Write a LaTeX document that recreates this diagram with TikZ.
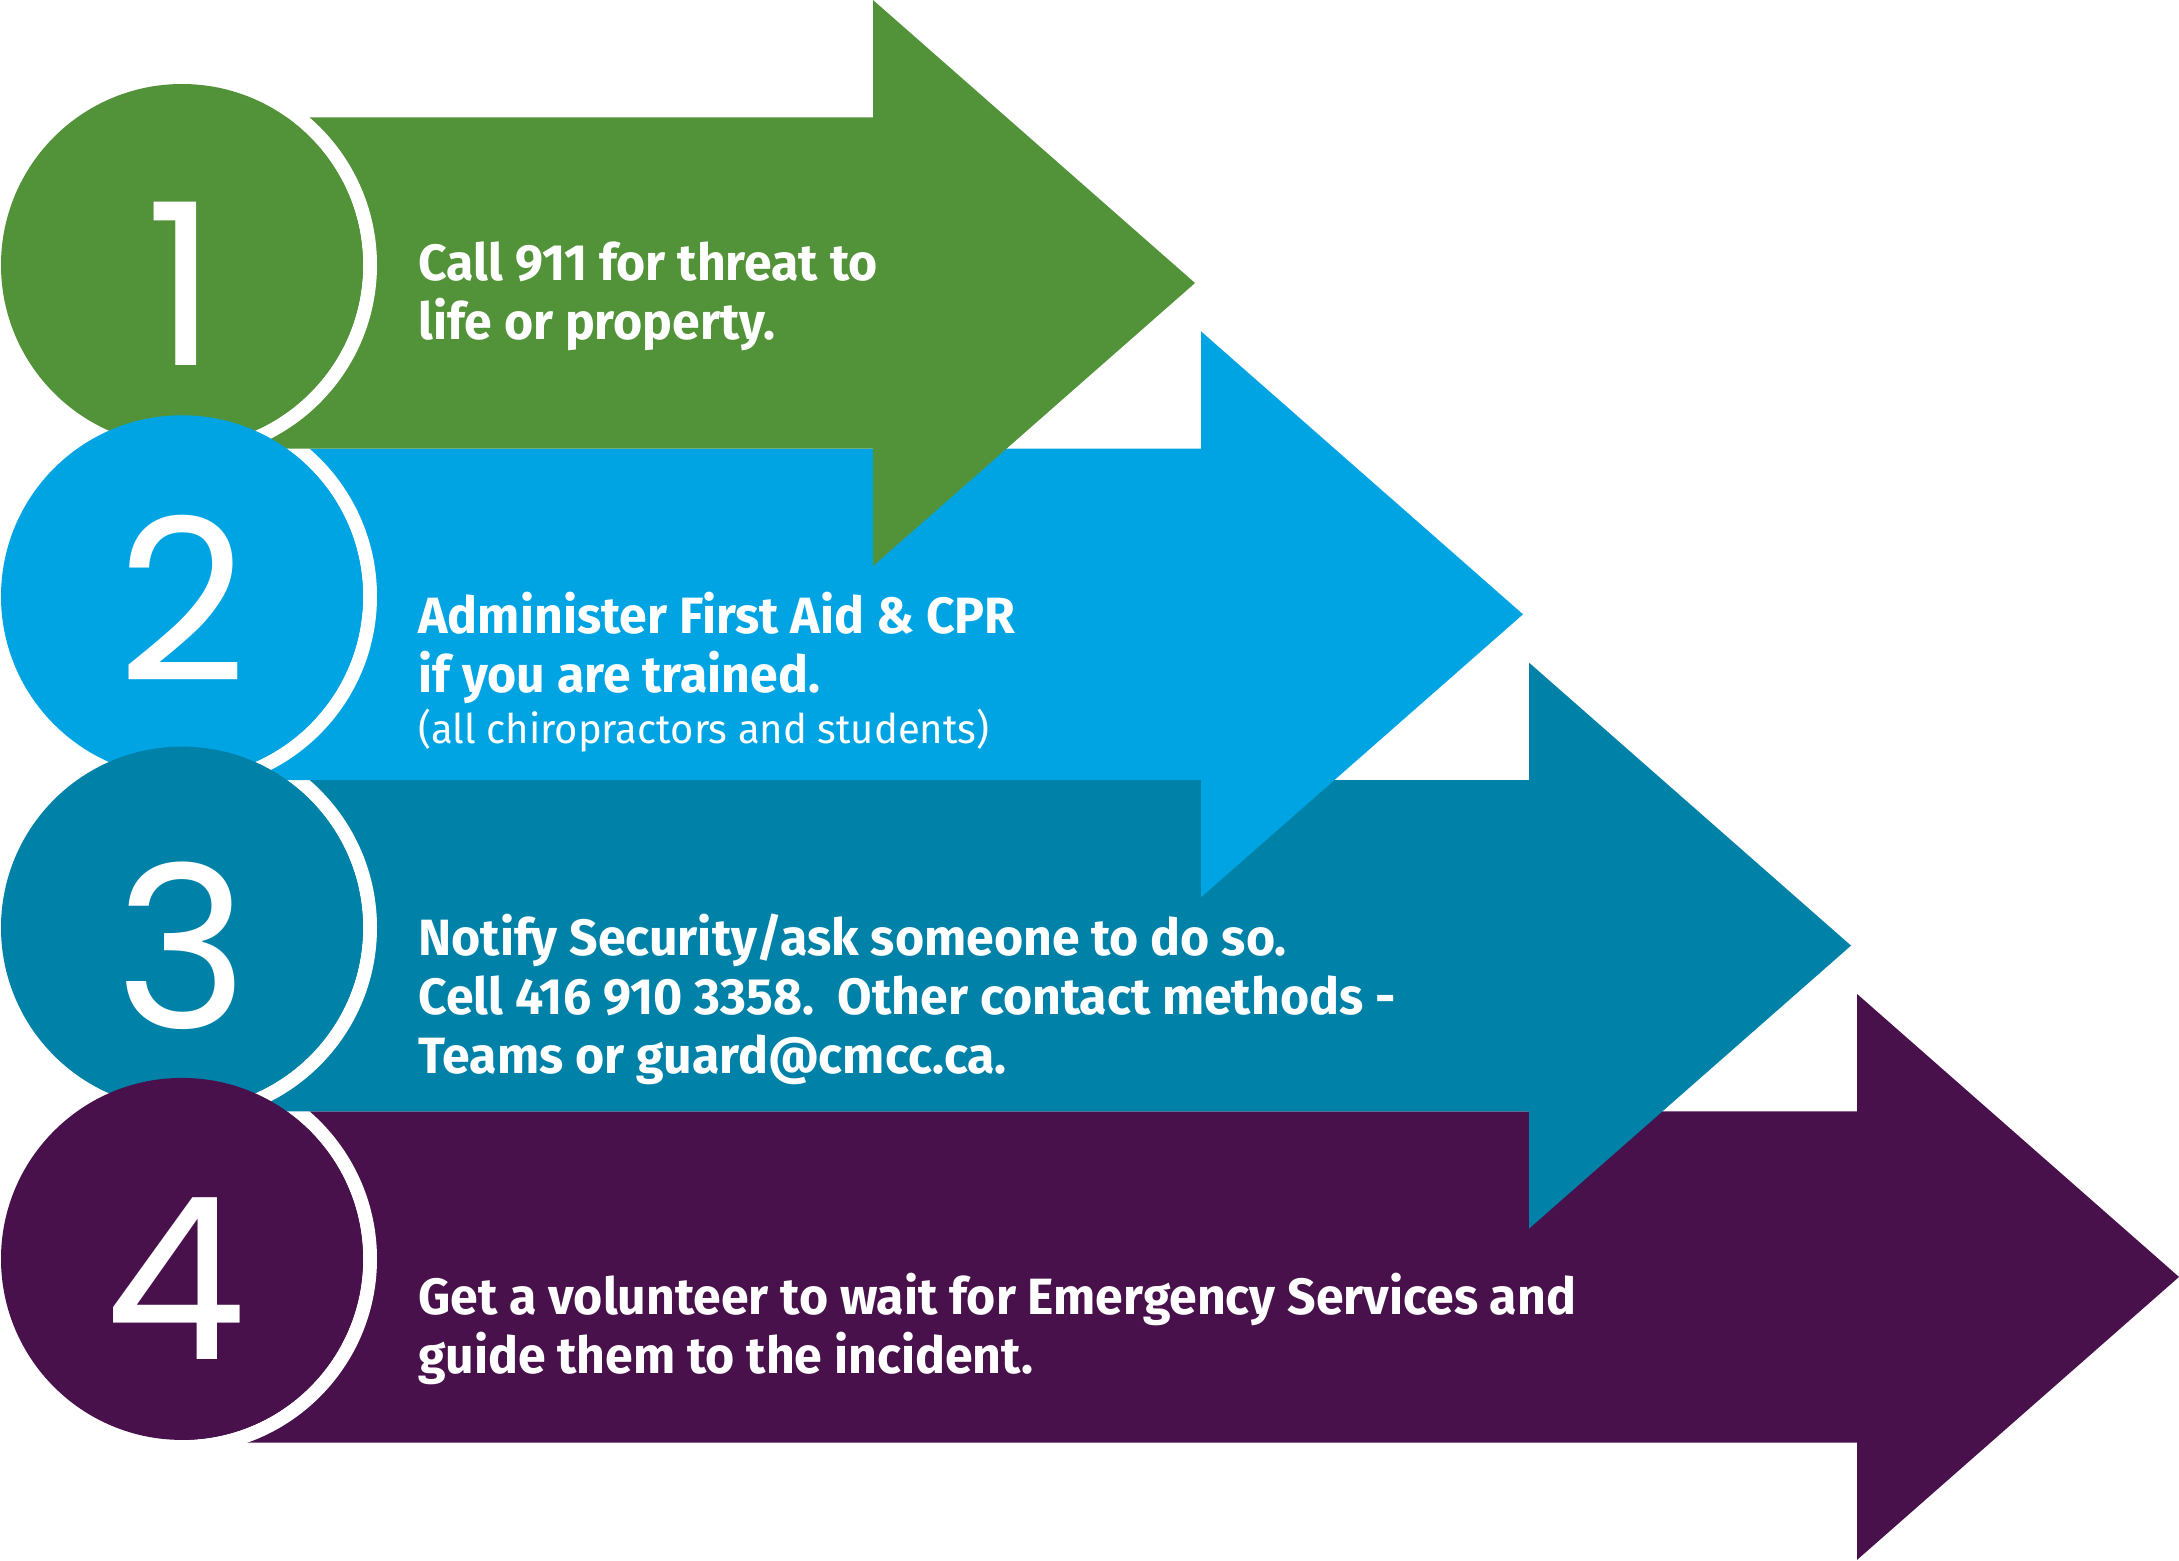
\documentclass[tikz,border=0pt]{standalone}
\usepackage{fontspec}
\newfontfamily\stepfont{Fira Sans}[FakeStretch=0.98]
\newfontfamily\numfont{Poppins}

\definecolor{stepgreen}{RGB}{82,146,56}
\definecolor{stepblue}{RGB}{0,164,227}
\definecolor{stepteal}{RGB}{0,129,168}
\definecolor{steppurple}{RGB}{72,17,75}

\tikzset{
  stepdisc/.style={circle, minimum size=181pt, inner sep=0pt},
  stepring/.style={draw=white, line width=7pt},
  stepnum/.style={anchor=base, text=white, inner sep=0pt,
    font=\numfont\fontsize{113}{113}\selectfont},
  steptext/.style={anchor=base west, text=white, align=left, inner sep=0pt,
    font=\stepfont\bfseries\fontsize{25.5}{29.5}\selectfont},
}

\begin{document}
\begin{tikzpicture}[x=0.5pt,y=-0.5pt]
  \useasboundingbox (0,0) rectangle (2179,1560);
  % arrows, bottom one first so each head lies over the next body
  \fill[steppurple] (182,1111.3) -- (1857,1111.3) -- (1857,993.9) -- (2179,1276.9)
    -- (1857,1559.9) -- (1857,1442.6) -- (182,1442.6) -- cycle;
  \draw[stepring] (182,1258.9) circle[radius=188];
  \fill[stepteal] (182,780) -- (1529,780) -- (1529,662.6) -- (1851,945.6)
    -- (1529,1228.6) -- (1529,1111.3) -- (182,1111.3) -- cycle;
  \draw[stepring] (182,927.6) circle[radius=188];
  \fill[stepblue] (182,448.7) -- (1201,448.7) -- (1201,331.3) -- (1523,614.3)
    -- (1201,897.3) -- (1201,780) -- (182,780) -- cycle;
  \draw[stepring] (182,596.3) circle[radius=188];
  \fill[stepgreen] (182,117.3) -- (873,117.3) -- (873,0) -- (1195,283)
    -- (873,566) -- (873,448.7) -- (182,448.7) -- cycle;
  \draw[stepring] (182,265) circle[radius=188];

  % discs with the step numbers
  \node[stepdisc, fill=stepgreen] (disc1) at (182,265) {};
  \node[stepdisc, fill=stepblue] (disc2) at (182,596.3) {};
  \node[stepdisc, fill=stepteal] (disc3) at (182,927.6) {};
  \node[stepdisc, fill=steppurple] (disc4) at (182,1258.9) {};
  \node[stepnum] (num1) at (182,365) {1};
  \node[stepnum] (num2) at (182,681) {2};
  \node[stepnum] (num3) at (182,1028) {3};
  \node[stepnum] (num4) at (176,1359) {4};

  % texts (base is the last line)
  \node[steptext] (text1) at (418,339) {Call 911 for threat to\\life or property.};
  \node[steptext] (text2) at (418,743) {Administer First Aid \& CPR\\if you are trained.\\[-4pt]
    {\mdseries\fontsize{20.4}{25.5}\selectfont (all chiropractors and students)}};
  \node[steptext] (text3) at (418,1073) {Notify Security/ask someone to do so.\\
    Cell 416 910 3358.\ \ Other contact methods -\\Teams or guard@cmcc.ca.};
  \node[steptext] (text4) at (418,1373) {Get a volunteer to wait for Emergency Services and\\
    guide them to the incident.};
\end{tikzpicture}
\end{document}
